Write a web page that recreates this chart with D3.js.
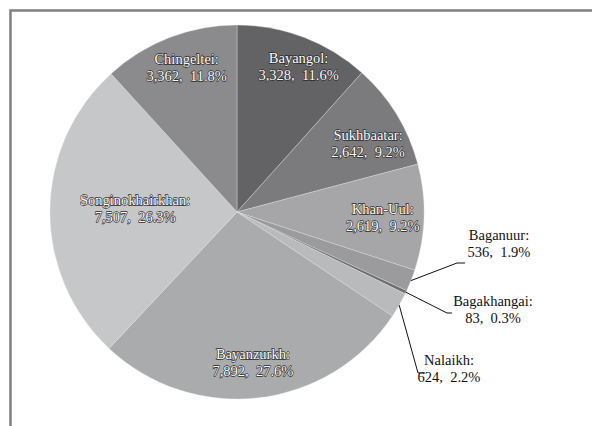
<!DOCTYPE html>
<html>
<head>
<meta charset="utf-8">
<script src="https://cdn.jsdelivr.net/npm/d3@7"></script>
<style>
  body { margin: 0; background: #fff; }
  svg { display: block; font-family: "Liberation Serif", "Times New Roman", serif; }
</style>
</head>
<body>
<script>
// districts, clockwise from 12 o'clock
var districts = ["Bayangol", "Sukhbaatar", "Khan-Uul", "Baganuur", "Bagakhangai", "Nalaikh", "Bayanzurkh", "Songinokhairkhan", "Chingeltei"];
var counts = [3328, 2642, 2619, 536, 83, 624, 7892, 7507, 3362];
var percents = ["11.6%", "9.2%", "9.2%", "1.9%", "0.3%", "2.2%", "27.6%", "26.3%", "11.8%"];

var colors = ["#636366", "#7b7b7d", "#a6a6a8", "#9b9b9d", "#6e6e70", "#b9babc", "#aaabad", "#c6c7c9", "#8b8b8d"];

var width = 592, height = 426;
var cx = 237, cy = 212, r = 187;

// label placement: inside labels use [radius factor, angle nudge in deg]
var inside = {
    "Bayangol": [0.845, 2], "Sukhbaatar": [0.79, 4], "Khan-Uul": [0.78, 0.5],
    "Bayanzurkh": [0.81, 0.5], "Songinokhairkhan": [0.545, 1.5], "Chingeltei": [0.82, 2]
};
// outside labels: text centre and elbow of the leader, relative to the pie centre
var outside = {
    "Baganuur":    { tx: 262, ty: 31,  ex: 220, ey: 51,  hx: 228 },
    "Bagakhangai": { tx: 256, ty: 97,  ex: 210, ey: 101, hx: 215 },
    "Nalaikh":     { tx: 212, ty: 156, ex: 181, ey: 161, hx: 188 }
};

var svg = d3.select("body").append("svg")
    .attr("width", width)
    .attr("height", height);

// chart frame (runs off the page on the right and bottom)
svg.append("rect")
    .attr("x", 10.5).attr("y", 10.5)
    .attr("width", 700).attr("height", 600)
    .attr("fill", "none")
    .attr("stroke", "#7f7f7f")
    .attr("stroke-width", 2.5);

var data = districts.map(function (d, i) {
    return { name: d, value: counts[i], pct: percents[i], color: colors[i] };
});

var pie = d3.pie().sort(null).value(function (d) { return d.value; });
var arc = d3.arc().innerRadius(0).outerRadius(r);
var arcs = pie(data);

var g = svg.append("g").attr("transform", "translate(" + cx + "," + cy + ")");

g.selectAll("path.slice")
    .data(arcs)
    .enter().append("path")
    .attr("class", "slice")
    .attr("d", arc)
    .attr("fill", function (d) { return d.data.color; })
    .attr("stroke", "#e6e6e6")
    .attr("stroke-opacity", 0.6)
    .attr("stroke-width", 0.6);

function fmt(d) { return d3.format(",")(d.data.value) + ",  " + d.data.pct; }

// inside labels: white with a thin dark outline
arcs.forEach(function (d) {
    var p = inside[d.data.name];
    if (!p) return;
    var a = (d.startAngle + d.endAngle) / 2 + p[1] * Math.PI / 180;
    var x = Math.sin(a) * r * p[0], y = -Math.cos(a) * r * p[0];
    var t = g.append("text")
        .attr("text-anchor", "middle")
        .attr("font-size", 14.5)
        .attr("fill", "#fff")
        .attr("stroke", "#2a2a2a")
        .attr("stroke-width", 1.3)
        .attr("stroke-linejoin", "round")
        .attr("paint-order", "stroke")
        .style("white-space", "pre");
    t.append("tspan").attr("x", x).attr("y", y - 3.5).text(d.data.name + ":");
    t.append("tspan").attr("x", x).attr("y", y + 13.5).text(fmt(d));
});

// outside labels with leader lines
arcs.forEach(function (d) {
    var o = outside[d.data.name];
    if (!o) return;
    var a = (d.startAngle + d.endAngle) / 2;
    var sx = Math.sin(a) * r, sy = -Math.cos(a) * r;
    g.append("polyline")
        .attr("points", [[sx, sy], [o.ex, o.ey], [o.hx, o.ey]].map(function (p) { return p.join(","); }).join(" "))
        .attr("fill", "none")
        .attr("stroke", "#111")
        .attr("stroke-width", 1);
    var t = g.append("text")
        .attr("text-anchor", "middle")
        .attr("font-size", 14.5)
        .attr("fill", "#111")
        .style("white-space", "pre");
    t.append("tspan").attr("x", o.tx).attr("y", o.ty - 3.5).text(d.data.name + ":");
    t.append("tspan").attr("x", o.tx).attr("y", o.ty + 13.5).text(fmt(d));
});
</script>
</body>
</html>
